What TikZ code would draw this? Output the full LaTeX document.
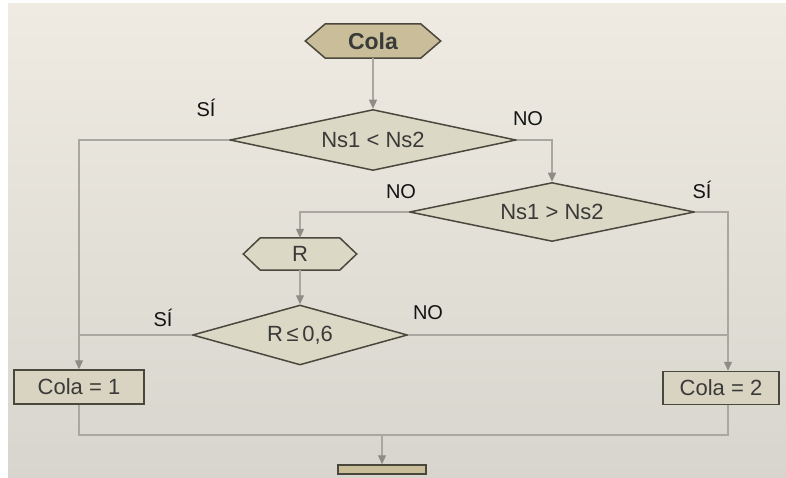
\documentclass[tikz,border=0pt]{standalone}
\usepackage{fontspec}
\setmainfont{Liberation Sans}
\usetikzlibrary{shapes.geometric,arrows.meta}
\pgfdeclarelayer{bg}
\pgfsetlayers{bg,main}
\definecolor{bgtop}{HTML}{EFEBE2}
\definecolor{bgbot}{HTML}{D7D5CD}
\definecolor{dfill}{HTML}{DCD8C6}
\definecolor{hfill}{HTML}{C9BE99}
\definecolor{rfill}{HTML}{DCD8C6}
\definecolor{bfill}{HTML}{D8D4C1}
\definecolor{edgec}{HTML}{4A473D}
\definecolor{connc}{HTML}{A9A7A0}
\definecolor{tipc}{HTML}{8E8C85}
\definecolor{ntext}{HTML}{3A3A38}
\begin{document}
\begin{tikzpicture}[x=1pt,y=-1pt,
  dia/.style={diamond, draw=edgec, line width=1.5pt, fill=dfill, inner sep=0pt, text=ntext, font=\fontsize{22}{24}\selectfont},
  boxn/.style={rectangle, draw=edgec, line width=1.5pt, fill=bfill, inner sep=0pt, text=ntext, font=\fontsize{22}{24}\selectfont, minimum height=34pt},
  hexn/.style={inner sep=0pt, text=ntext, font=\fontsize{22}{24}\selectfont},
  hexline/.style={draw=edgec, line width=1.5pt, line join=miter},
  connl/.style={draw=connc, line width=1.1pt},
  arr/.style={connl, -{Triangle[width=8pt,length=9pt,color=tipc]}},
  lbl/.style={text=black!92, font=\fontsize{20}{22}\selectfont, inner sep=0pt}
]
\useasboundingbox (0,0) rectangle (786,478);
% nodes
\node[hexn, minimum width=135pt, minimum height=34pt, font=\fontsize{23}{25}\selectfont\bfseries] (cola) at (373,41) {Cola};
\node[dia, aspect=4.7, minimum width=286pt, minimum height=61pt] (d1) at (373,140) {Ns1 < Ns2};
\node[dia, aspect=4.8, minimum width=285pt, minimum height=59pt] (d2) at (552,212) {Ns1 > Ns2};
\node[hexn, minimum width=113pt, minimum height=32pt] (r) at (300,254) {R};
\node[dia, aspect=3.6, minimum width=215pt, minimum height=60pt] (d3) at (300,335) {R\,≤\,0,6};
\node[boxn, minimum width=130pt] (b1) at (79,387) {Cola = 1};
\node[boxn, minimum width=116pt, minimum height=33pt] (b2) at (721,388) {Cola = 2};
\node[boxn, minimum width=88pt, minimum height=9pt, fill=hfill] (endb) at (382,469.5) {};
% background and hexagons
\begin{pgfonlayer}{bg}
  \fill[white] (0,0) rectangle (786,478);
  \shade[top color=bgtop, bottom color=bgbot] (8,4) rectangle (786,478);
  \draw[hexline, fill=hfill] (cola.west) -- ([xshift=20pt]cola.north west) -- ([xshift=-20pt]cola.north east) -- (cola.east) -- ([xshift=-20pt]cola.south east) -- ([xshift=20pt]cola.south west) -- cycle;
  \draw[hexline, fill=rfill] (r.west) -- ([xshift=17pt]r.north west) -- ([xshift=-17pt]r.north east) -- (r.east) -- ([xshift=-17pt]r.south east) -- ([xshift=17pt]r.south west) -- cycle;
\end{pgfonlayer}
% connectors
\coordinate (rx) at (728,0);
\coordinate (m) at (382,435);
\draw[arr] (cola.south) -- (d1.north);
\draw[arr] (d1.west) -| (b1.north);
\draw[arr] (d1.east) -| (d2.north);
\draw[arr] (d2.east) -| (b2.north -| rx);
\draw[arr] (d2.west) -| (r.north);
\draw[arr] (r.south) -- (d3.north);
\draw[connl] (d3.west) -- (d3.west -| b1.north);
\draw[connl] (d3.east) -- (d3.east -| rx);
\draw[connl] (b1.south) |- (m);
\draw[connl] (b2.south -| rx) |- (m);
\draw[arr] (m) -- (endb.north);
% labels
\node[lbl] (l1) at (206,108) {SÍ};
\node[lbl] (l2) at (528,119) {NO};
\node[lbl] (l3) at (401,192) {NO};
\node[lbl] (l4) at (702,190) {SÍ};
\node[lbl] (l5) at (163,318) {SÍ};
\node[lbl] (l6) at (428,313) {NO};
\end{tikzpicture}
\end{document}
